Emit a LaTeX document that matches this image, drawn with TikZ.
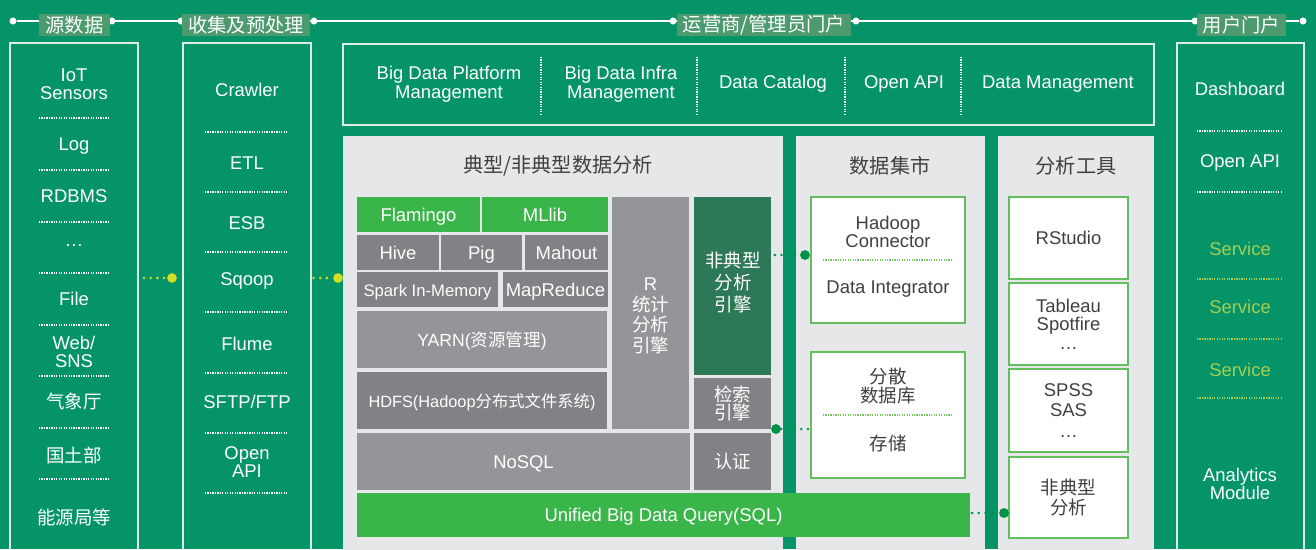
\documentclass[tikz,border=0pt]{standalone}
\usepackage{fontspec}
\setmainfont{Liberation Sans}
\newfontfamily\cjk{Noto Sans CJK SC}

\begin{document}
\begin{tikzpicture}[x=0.02cm,y=-0.02cm,
  sz/.style 2 args={minimum width=#1*0.02cm,minimum height=#2*0.02cm},
  oneline/.style={text height=7.6pt,text depth=0pt},
  wtxt/.style={text=white,align=center,inner sep=0pt,font=\fontsize{10.5}{10.5}\selectfont},
  gtxt/.style={text=txtgrey,align=center,inner sep=0pt,font=\fontsize{10.5}{10.5}\selectfont},
  svtxt/.style={wtxt,text=servicegreen},
  hdr/.style={fill=hdrgreen,text=white,inner xsep=3.5pt,inner ysep=0pt,minimum height=0.44cm,font=\cjk\fontsize{11}{11}\selectfont},
  ptitle/.style={text=txtgrey,inner sep=0pt,font=\cjk\fontsize{11.5}{11.5}\selectfont},
  colbox/.style={draw=linewhite,line width=0.85pt,inner sep=0pt},
  panel/.style={fill=panelgrey,inner sep=0pt},
  blk/.style={inner sep=0pt,text=white,align=center,font=\fontsize{10.5}{10.5}\selectfont},
  darkblk/.style={blk,fill=darkgrey},
  lightblk/.style={blk,fill=lightgrey},
  greenblk/.style={blk,fill=limegreen},
  toolbox/.style={fill=white,draw=boxgreen,line width=0.85pt,inner sep=0pt,text=txtgrey,align=center,font=\fontsize{10.5}{10.5}\selectfont},
  sepw/.style={draw=white,line width=0.6pt,dash pattern=on 0.7pt off 0.7pt},
  sepg/.style={draw=sepgreen,line width=0.6pt,dash pattern=on 0.7pt off 0.7pt},
  sepsv/.style={draw=servicegreen,line width=0.6pt,dash pattern=on 0.7pt off 0.7pt},
  hdot/.style={circle,fill=white,inner sep=0pt,minimum size=4pt},
  ydot/.style={circle,fill=dotyellow,inner sep=0pt,minimum size=5.5pt},
  gdot/.style={circle,fill=dotgreen,inner sep=0pt,minimum size=5.6pt},
  yconn/.style={draw=dotyellow,line width=1.6pt,line cap=round,dash pattern=on 0pt off 3.8pt},
  gconn/.style={draw=dotgreen,line width=1.6pt,line cap=round,dash pattern=on 0pt off 3.8pt}]
\definecolor{bggreen}{RGB}{5,148,104}
\definecolor{hdrgreen}{RGB}{76,154,110}
\definecolor{linewhite}{RGB}{222,238,230}
\definecolor{panelgrey}{RGB}{230,231,232}
\definecolor{darkgrey}{RGB}{128,130,133}
\definecolor{lightgrey}{RGB}{148,149,152}
\definecolor{limegreen}{RGB}{58,181,74}
\definecolor{deepgreen}{RGB}{45,120,86}
\definecolor{boxgreen}{RGB}{98,190,95}
\definecolor{sepgreen}{RGB}{120,200,95}
\definecolor{txtgrey}{RGB}{64,64,66}
\definecolor{servicegreen}{RGB}{165,205,85}
\definecolor{dotgreen}{RGB}{0,145,72}
\definecolor{dotyellow}{RGB}{214,222,35}
\useasboundingbox (0,0) rectangle (1316,549);
\clip (0,0) rectangle (1316,549);
\fill[bggreen] (0,0) rectangle (1316,549);
% header line
\node[hdot] (h1) at (13,21) {};
\node[hdot] (h2) at (112,21) {};
\node[hdot] (h3) at (181,21) {};
\node[hdot] (h4) at (314,21) {};
\node[hdot] (h5) at (673,21) {};
\node[hdot] (h6) at (856,21) {};
\node[hdot] (h7) at (1195,21) {};
\node[hdot] (h8) at (1303,21) {};
\draw[white,line width=0.7pt] (h1) -- (h8);
\node[hdr] (hsrc) at (74.5,25) {源数据};
\node[hdr] (hcol) at (246,25) {收集及预处理};
\node[hdr] (hops) at (764,25) {运营商/管理员门户};
\node[hdr] (husr) at (1241.5,25) {用户门户};
% source column
\node[colbox,sz={128}{517}] (src) at (74,301.5) {};
\node[wtxt] (iot) at (74,84) {IoT\\Sensors};
\node[wtxt] (log) at (74,146) {Log};
\node[wtxt] (rdbms) at (74,196) {RDBMS};
\node[wtxt] (etc) at (74,246) {\ldots};
\node[wtxt] (file) at (74,299) {File};
\node[wtxt] (web) at (74,352) {Web/\\SNS};
\node[wtxt] (qxt) at (74,401) {\cjk 气象厅};
\node[wtxt] (gtb) at (74,455) {\cjk 国土部};
\node[wtxt] (nyj) at (74,517) {\cjk 能源局等};
\draw[sepw] (39,118) -- (110,118);
\draw[sepw] (39,170) -- (110,170);
\draw[sepw] (39,222) -- (110,222);
\draw[sepw] (39,273) -- (110,273);
\draw[sepw] (39,325) -- (110,325);
\draw[sepw] (39,376) -- (110,376);
\draw[sepw] (39,428) -- (110,428);
\draw[sepw] (39,479) -- (110,479);
% collection column
\node[colbox,sz={128}{517}] (col) at (247,301.5) {};
\node[wtxt] (crawler) at (247,90) {Crawler};
\node[wtxt] (etl) at (247,163) {ETL};
\node[wtxt] (esb) at (247,223) {ESB};
\node[wtxt] (sqoop) at (247,281) {Sqoop};
\node[wtxt] (flume) at (247,344) {Flume};
\node[wtxt] (sftp) at (247,402) {SFTP/FTP};
\node[wtxt] (capi) at (247,462) {Open\\API};
\draw[sepw] (205,132) -- (288,132);
\draw[sepw] (205,192) -- (288,192);
\draw[sepw] (205,252) -- (288,252);
\draw[sepw] (205,312) -- (288,312);
\draw[sepw] (205,373) -- (288,373);
\draw[sepw] (205,433) -- (288,433);
\draw[sepw] (205,493) -- (288,493);
% admin portal
\node[colbox,sz={811}{81}] (admin) at (748.5,84.5) {};
\node[wtxt] (bdpm) at (449,84) {Big Data Platform\\Management};
\node[wtxt] (bdim) at (621,84) {Big Data Infra\\Management};
\node[wtxt] (cat) at (773,84) {Data Catalog};
\node[wtxt] (oapi) at (904,84) {Open API};
\node[wtxt] (dmgmt) at (1058,84) {Data Management};
\draw[sepw] (541,57) -- (541,114);
\draw[sepw] (697,57) -- (697,114);
\draw[sepw] (845,57) -- (845,114);
\draw[sepw] (961,57) -- (961,114);
% user portal
\node[colbox,sz={127}{517}] (usr) at (1240.5,301.5) {};
\node[wtxt] (dash) at (1240,89) {Dashboard};
\node[wtxt] (uapi) at (1240,163) {Open API};
\node[svtxt] (sv1) at (1240,249) {Service};
\node[svtxt] (sv2) at (1240,307) {Service};
\node[svtxt] (sv3) at (1240,370) {Service};
\node[wtxt] (amod) at (1240,484) {Analytics\\Module};
\draw[sepw] (1197,131) -- (1283,131);
\draw[sepw] (1197,192) -- (1283,192);
\draw[sepsv] (1197,279) -- (1283,279);
\draw[sepsv] (1197,339) -- (1283,339);
\draw[sepsv] (1197,398) -- (1283,398);
% analysis panel
\node[panel,sz={440}{424}] (ana) at (563,348) {};
\node[ptitle] (tana) at (558,166) {典型/非典型数据分析};
\node[greenblk,oneline,sz={123}{35}] (flamingo) at (418.5,214.5) {Flamingo};
\node[greenblk,oneline,sz={126}{35}] (mllib) at (545,214.5) {MLlib};
\node[darkblk,oneline,sz={82}{35}] (hive) at (398,252.5) {Hive};
\node[darkblk,oneline,sz={81}{35}] (pig) at (481.5,252.5) {Pig};
\node[darkblk,oneline,sz={83}{35}] (mahout) at (566.5,252.5) {Mahout};
\node[darkblk,oneline,sz={141}{35},font=\fontsize{9.5}{9.5}\selectfont] (spark) at (427.5,289.5) {Spark In-Memory};
\node[darkblk,oneline,sz={105}{35}] (mapred) at (555.5,289.5) {MapReduce};
\node[lightblk,oneline,sz={250}{57},font=\fontsize{10}{10}\selectfont] (yarn) at (482,339.5) {YARN({\cjk 资源管理})};
\node[darkblk,oneline,sz={250}{57},font=\fontsize{9.3}{9.3}\selectfont] (hdfs) at (482,400.5) {HDFS(Hadoop{\cjk 分布式文件系统})};
\node[lightblk,sz={77}{232}] (rengine) at (650.5,313) {};
\node[blk] (rtxt) at (650.5,316) {R\\[1.2pt]\cjk 统计\\[1.2pt]\cjk 分析\\[1.2pt]\cjk 引擎};
\node[blk,fill=deepgreen,sz={77}{178}] (ntype) at (732.5,286) {};
\node[blk,font=\cjk\fontsize{10.5}{12.5}\selectfont] (ntxt) at (733,282) {非典型\\分析\\引擎};
\node[darkblk,sz={77}{51},font=\cjk\fontsize{10.5}{10.5}\selectfont] (search) at (732.5,403.5) {检索\\引擎};
\node[lightblk,oneline,sz={333}{57}] (nosql) at (523.5,461.5) {NoSQL};
\node[darkblk,sz={77}{57},font=\cjk\fontsize{10.5}{10.5}\selectfont] (auth) at (732.5,461.5) {认证};
% data mart panel
\node[panel,sz={189}{424}] (mart) at (890.5,348) {};
\node[ptitle] (tmart) at (890,166) {数据集市};
\node[toolbox,sz={154}{126}] (hadoop) at (888,260) {};
\node[gtxt] (hconn) at (888,232) {Hadoop\\Connector};
\node[gtxt] (dint) at (888,289) {Data Integrator};
\draw[sepg] (823,260) -- (953,260);
\node[toolbox,sz={154}{126}] (store) at (888,415) {};
\node[gtxt,font=\cjk\fontsize{10.5}{10.5}\selectfont] (ddb) at (888,386) {分散\\数据库};
\node[gtxt,font=\cjk\fontsize{10.5}{10.5}\selectfont] (stor) at (888,443) {存储};
\draw[sepg] (823,415) -- (953,415);
% tools panel
\node[panel,sz={156}{424}] (tools) at (1076,348) {};
\node[ptitle] (ttools) at (1076,166) {分析工具};
\node[toolbox,oneline,sz={119}{82}] (rstudio) at (1068.5,238) {RStudio};
\node[toolbox,sz={119}{82}] (tableau) at (1068.5,324) {Tableau\\Spotfire\\\ldots};
\node[toolbox,sz={119}{83},font=\fontsize{10.5}{11.5}\selectfont] (spss) at (1068.5,410.5) {SPSS\\SAS\\\ldots};
\node[toolbox,sz={119}{81},font=\cjk\fontsize{10.5}{11.5}\selectfont] (ntool) at (1068.5,497.5) {非典型\\分析};
% query bar
\node[greenblk,oneline,sz={613}{44}] (query) at (663.5,515) {Unified Big Data Query(SQL)};
% connectors
\node[ydot] (yd1) at (172,278) {};
\node[ydot] (yd2) at (338,278) {};
\draw[yconn,shorten <=3pt] (src.east |- yd1) -- (yd1);
\draw[yconn,shorten <=1pt] (col.east |- yd2) -- (yd2);
\node[gdot] (gd1) at (805,255) {};
\node[gdot] (gd2) at (776,429) {};
\node[gdot] (gd3) at (1004,513) {};
\draw[gconn,shorten <=2pt] (ntype.east |- gd1) -- (gd1);
\draw[gconn,shorten >=1pt] (gd2) -- (store.west |- gd2);
\draw[gconn,shorten <=1pt] (query.east |- gd3) -- (gd3);
\end{tikzpicture}
\end{document}
